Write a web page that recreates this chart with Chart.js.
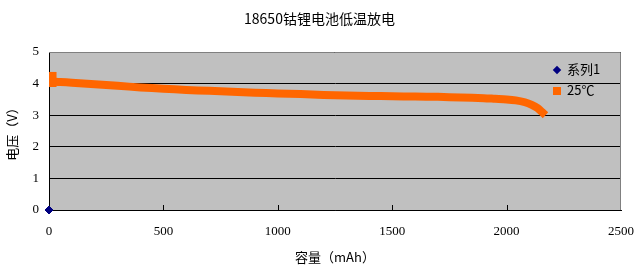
<!DOCTYPE html>
<html>
<head>
<meta charset="utf-8">
<script src="https://cdn.jsdelivr.net/npm/chart.js@4/dist/chart.umd.min.js"></script>
<style>
  body { margin: 0; background: #fff; }
  #wrap { position: relative; width: 639px; height: 269px; }
  #titulo { position: absolute; left: 0; top: 8px; width: 639px; text-align: center;
    font: 14px "Noto Sans CJK SC", "DejaVu Serif", serif; color: #000; }
  #legenda { position: absolute; left: 553px; top: 58px; font: 13px "Noto Sans CJK SC", serif; color: #000; }
  #legenda div { height: 21px; line-height: 21px; white-space: nowrap; }
  #legenda span.m { display: inline-block; width: 8px; height: 8px; margin-right: 6px; vertical-align: middle; }
</style>
</head>
<body>
<div id="wrap">
  <canvas id="grafico" width="639" height="269"></canvas>
  <div id="titulo">18650钴锂电池低温放电</div>
  <div id="legenda">
    <div><span class="m" style="background:#000080;width:6px;height:6px;transform:rotate(45deg);margin-left:1px;margin-right:7px"></span>系列1</div>
    <div><span class="m" style="background:#FF6600"></span>25℃</div>
  </div>
</div>
<script>
// capacidade (mAh) e tensao (V)
const capacidade = [0, 15, 50, 100, 200, 300, 400, 500, 600, 700, 800, 900, 1000, 1100, 1200, 1300,
  1400, 1500, 1600, 1700, 1800, 1900, 1950, 2000, 2040, 2080, 2110, 2135, 2155, 2170];
const tensao25 = [4.13, 4.07, 4.05, 4.03, 3.98, 3.93, 3.88, 3.84, 3.80, 3.77, 3.74, 3.71, 3.69, 3.67, 3.64, 3.62,
  3.61, 3.60, 3.59, 3.58, 3.56, 3.54, 3.52, 3.50, 3.47, 3.41, 3.33, 3.23, 3.10, 3.00];
const serie1X = [0];
const serie1Y = [0];
const xTicks = [0, 500, 1000, 1500, 2000, 2500];

const fonte = { family: "'Liberation Serif', 'Noto Sans CJK SC', serif", size: 13 };

// fundo cinza + marcas do eixo x para dentro
const fundo = {
  id: "fundo",
  beforeDraw(chart) {
    const { ctx, chartArea: a } = chart;
    ctx.save();
    ctx.fillStyle = "#C0C0C0";
    ctx.fillRect(a.left, a.top, a.right - a.left, a.bottom - a.top);
    ctx.restore();
  },
  afterDatasetsDraw(chart) {
    const { ctx, chartArea: a, scales } = chart;
    ctx.save();
    ctx.strokeStyle = "#808080";
    ctx.lineWidth = 1;
    ctx.beginPath();
    ctx.moveTo(a.left, a.top + 0.5);
    ctx.lineTo(a.right - 0.5, a.top + 0.5);
    ctx.lineTo(a.right - 0.5, a.bottom);
    ctx.stroke();
    ctx.strokeStyle = "#000";
    ctx.beginPath();
    xTicks.slice(1, -1).forEach(v => {
      const x = Math.round(scales.x.getPixelForValue(v)) + 0.5;
      ctx.moveTo(x, a.bottom);
      ctx.lineTo(x, a.bottom - 5);
    });
    ctx.stroke();
    ctx.restore();
  }
};

new Chart(document.getElementById("grafico"), {
  type: "scatter",
  data: {
    datasets: [
      {
        label: "25℃",
        data: capacidade.map((c, i) => ({ x: c, y: tensao25[i] })),
        showLine: true,
        borderColor: "#FF6600",
        backgroundColor: "#FF6600",
        borderWidth: 8,
        pointRadius: ctx => ctx.dataIndex === 0 ? 5 : 0,
        pointStyle: "rect",
        tension: 0.3
      },
      {
        label: "系列1",
        data: serie1X.map((x, i) => ({ x: x, y: serie1Y[i] })),
        backgroundColor: "#000080",
        borderColor: "#000080",
        pointStyle: "rectRot",
        pointRadius: 4,
        clip: false
      }
    ]
  },
  options: {
    responsive: false,
    animation: false,
    layout: { padding: { top: 52, right: 18, left: 0, bottom: 0 } },
    plugins: { legend: { display: false }, tooltip: { enabled: false } },
    scales: {
      x: {
        type: "linear", min: 0, max: 2500,
        afterBuildTicks: s => { s.ticks = xTicks.map(v => ({ value: v })); },
        afterFit: s => { s.height = 59; s.paddingRight = 0; },
        grid: { display: false, drawTicks: false },
        border: { color: "#000", width: 1 },
        ticks: { padding: 14, color: "#000", font: fonte, maxRotation: 0, callback: v => String(v) },
        title: { display: true, text: "容量（mAh）", color: "#000", padding: { top: 12 },
          font: { family: "'Noto Sans CJK SC', serif", size: 13 } }
      },
      y: {
        min: 0, max: 5,
        afterFit: s => { s.width = 49; },
        grid: { color: "#000", drawTicks: false },
        border: { color: "#000", width: 1 },
        ticks: { stepSize: 1, padding: 10, color: "#000", font: fonte },
        title: { display: true, text: "电压（V）", color: "#000", padding: { bottom: 12 },
          font: { family: "'Noto Sans CJK SC', serif", size: 13 } }
      }
    }
  },
  plugins: [fundo]
});
</script>
</body>
</html>
